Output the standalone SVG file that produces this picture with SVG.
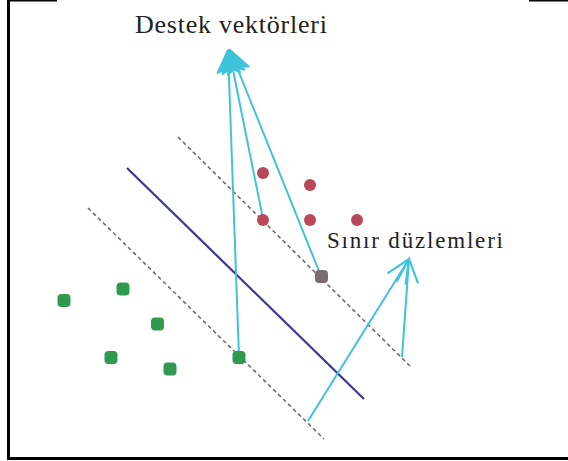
<svg xmlns="http://www.w3.org/2000/svg" width="568" height="461" viewBox="0 0 568 461">
<style>
.frame{stroke:#000;stroke-width:3;fill:none}
.dash{stroke:#6e6e6e;stroke-width:1.6;stroke-dasharray:4 3;fill:none}
.hyper{stroke:#3b3794;stroke-width:2.2;fill:none}
.arrow{stroke:#3fc3dc;stroke-width:2;fill:none}
.green{fill:#2f9a4e}
.red{fill:#b9495a}
.gray{fill:#7b6c6f}
.lbl{font-family:"Liberation Serif","Times New Roman",serif;fill:#222}
</style>
<defs>
<marker id="headFill" markerUnits="userSpaceOnUse" markerWidth="30" markerHeight="30" refX="0" refY="0" viewBox="-22 -12 24 24" orient="auto">
<path d="M0,0 L-18,-9 L-14,0 L-18,9 Z" fill="#3fc3dc" stroke="#3fc3dc" stroke-width="1.5" stroke-linejoin="round"/>
</marker>
<marker id="headOpen" markerUnits="userSpaceOnUse" markerWidth="30" markerHeight="30" refX="0" refY="0" viewBox="-26 -14 28 28" orient="auto">
<path d="M-22,-10 L0,0 L-22,10" fill="none" stroke="#3fc3dc" stroke-width="2"/>
</marker>
</defs>
<rect width="568" height="461" fill="#fff"/>
<g id="frame">
<line class="frame" x1="8.5" y1="0" x2="8.5" y2="460"/>
<line class="frame" x1="7" y1="458.5" x2="568" y2="458.5"/>
<line class="frame" x1="7" y1="0.5" x2="57" y2="0.5" style="stroke-width:2"/>
<line class="frame" x1="529" y1="0.5" x2="568" y2="0.5" style="stroke-width:2"/>
</g>
<g id="planes">
<line class="dash" x1="178" y1="137" x2="410" y2="366"/>
<line class="hyper" x1="127" y1="168" x2="364" y2="399"/>
<line class="dash" x1="88" y1="208" x2="324" y2="439"/>
</g>
<g id="connectors">
<line class="arrow" x1="239" y1="357" x2="228" y2="50" marker-end="url(#headFill)"/>
<line class="arrow" x1="263" y1="219" x2="229" y2="50" marker-end="url(#headFill)"/>
<line class="arrow" x1="321" y1="276" x2="230" y2="50" marker-end="url(#headFill)"/>
<line class="arrow" x1="308" y1="421" x2="409" y2="259" marker-end="url(#headOpen)"/>
<line class="arrow" x1="402" y1="357" x2="409" y2="259" marker-end="url(#headOpen)"/>
</g>
<g id="class-green">
<rect class="green" x="57.5" y="294" width="13" height="13" rx="4"/>
<rect class="green" x="116.5" y="282.5" width="13" height="13" rx="4"/>
<rect class="green" x="151" y="317.5" width="13" height="13" rx="4"/>
<rect class="green" x="104.5" y="351" width="13" height="13" rx="4"/>
<rect class="green" x="163.5" y="362.5" width="13" height="13" rx="4"/>
<rect class="green" x="232.5" y="351" width="13" height="13" rx="4"/>
</g>
<g id="class-red">
<circle class="red" cx="263" cy="173" r="6"/>
<circle class="red" cx="310" cy="185" r="6"/>
<circle class="red" cx="263" cy="220" r="6"/>
<circle class="red" cx="310" cy="220" r="6"/>
<circle class="red" cx="357" cy="220" r="6"/>
<rect class="gray" x="315" y="270" width="13" height="13" rx="4"/>
</g>
<g id="label-destek">
<text class="lbl" x="135" y="33" font-size="26" textLength="192" lengthAdjust="spacing">Destek vektörleri</text>
</g>
<g id="label-sinir">
<text class="lbl" x="327" y="248" font-size="23" textLength="176" lengthAdjust="spacing">Sınır düzlemleri</text>
</g>
</svg>
